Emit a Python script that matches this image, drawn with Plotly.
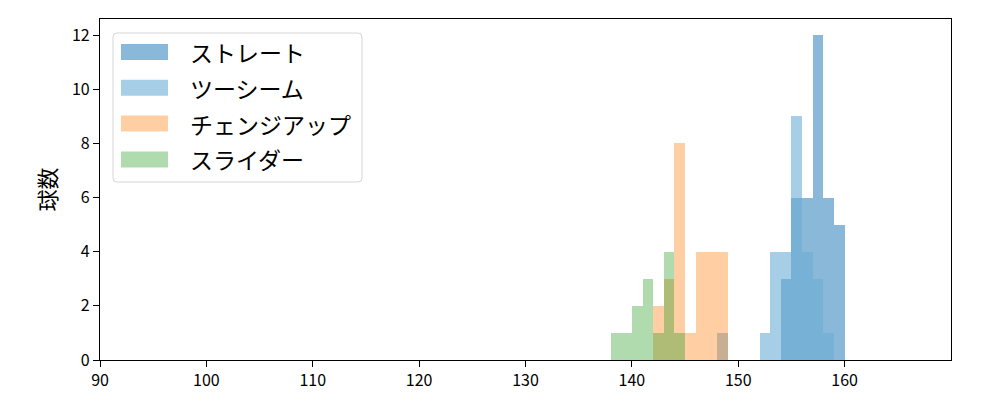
import plotly.graph_objects as go

# ---- data (bin left edges in km/h, counts per 1 km/h bin) ----
series_names = ["ストレート", "ツーシーム", "チェンジアップ", "スライダー"]

straight_bins = [154, 155, 156, 157, 158, 159]
straight_counts = [3, 6, 6, 12, 6, 5]

twoseam_bins = [148, 152, 153, 154, 155, 156, 157, 158]
twoseam_counts = [1, 1, 4, 4, 9, 4, 3, 1]

changeup_bins = [142, 143, 144, 145, 146, 147, 148]
changeup_counts = [2, 3, 8, 1, 4, 4, 4]

slider_bins = [138, 139, 140, 141, 142, 143, 144]
slider_counts = [1, 1, 2, 3, 1, 4, 1]

x_ticks = [90, 100, 110, 120, 130, 140, 150, 160]
y_ticks = [0, 2, 4, 6, 8, 10, 12]
y_label = "球数"

colors = [
    "rgba(31,119,180,0.52)",
    "rgba(107,174,214,0.6)",
    "rgba(255,127,14,0.38)",
    "rgba(44,160,44,0.38)",
]

bins_all = [straight_bins, twoseam_bins, changeup_bins, slider_bins]
counts_all = [straight_counts, twoseam_counts, changeup_counts, slider_counts]

FONT = "Noto Sans CJK JP"

fig = go.Figure()
for name, b, c, col in zip(series_names, bins_all, counts_all, colors):
    fig.add_trace(go.Bar(
        x=[v + 0.5 for v in b], y=c, width=1.0, name=name,
        marker=dict(color=col, line=dict(width=0)),
        showlegend=False,
    ))

W, H = 1000, 400
OFF = 8  # page offset of the figure in the browser
# plot area in screen pixels
SL, SR, ST, SB = 100, 951, 19, 360
pw, ph = SR - SL, SB - ST
L, T = SL - OFF, ST - OFF
R = W - (SR - OFF)
B = H - (SB - OFF)


def px(xp):
    return (xp - SL) / pw


def py(yp):
    return (SB - yp) / ph


shapes = []
annotations = []
# legend box (rounded)
x0, x1, y0, y1 = px(113), px(362), py(33), py(182)
r = 4
rx, ry = r / pw, r / ph
path = (f"M {x0+rx},{y0} L {x1-rx},{y0} Q {x1},{y0} {x1},{y0-ry} "
        f"L {x1},{y1+ry} Q {x1},{y1} {x1-rx},{y1} L {x0+rx},{y1} "
        f"Q {x0},{y1} {x0},{y1+ry} L {x0},{y0-ry} Q {x0},{y0} {x0+rx},{y0} Z")
shapes.append(dict(type="path", xref="paper", yref="paper", path=path,
                   fillcolor="rgba(255,255,255,0.8)",
                   line=dict(color="#d5d5d5", width=1)))
for i, (name, col) in enumerate(zip(series_names, colors)):
    cy = 52 + i * 35.8
    shapes.append(dict(type="rect", xref="paper", yref="paper",
                       x0=px(121), x1=px(168), y0=py(cy - 8), y1=py(cy + 8),
                       fillcolor=col, line=dict(width=0)))
    annotations.append(dict(xref="paper", yref="paper", x=px(188), y=py(cy),
                            text=name, showarrow=False, xanchor="left",
                            yanchor="middle",
                            font=dict(family=FONT, size=23, color="#000")))

fig.update_layout(
    width=W, height=H,
    margin=dict(l=L, r=R, t=T, b=B, pad=0),
    paper_bgcolor="white", plot_bgcolor="white",
    barmode="overlay", bargap=0,
    font=dict(family=FONT, size=16, color="#000"),
    shapes=shapes, annotations=annotations,
    showlegend=False,
)
fig.update_xaxes(range=[90, 170], tickvals=x_ticks, ticks="outside", ticklen=6,
                 tickwidth=1.3, tickcolor="#000", showgrid=False, zeroline=False,
                 showline=True, linecolor="#000", linewidth=1.3, mirror=True,
                 tickfont=dict(family=FONT, size=16, color="#000"))
fig.update_yaxes(range=[0, 12.6], tickvals=y_ticks, ticks="outside", ticklen=6,
                 tickwidth=1.3, tickcolor="#000", showgrid=False, zeroline=False,
                 showline=True, linecolor="#000", linewidth=1.3, mirror=True,
                 tickfont=dict(family=FONT, size=16, color="#000"),
                 title=dict(text=y_label, font=dict(family=FONT, size=22, color="#000"),
                            standoff=9))

fig.write_html("out.html")
